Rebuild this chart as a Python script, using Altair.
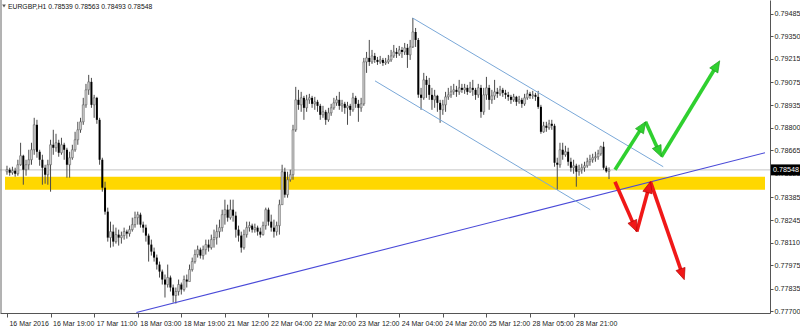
import math
import altair as alt
import pandas as pd

# ---------------- data (prices in points, 1 point = 0.00001) ----------------
first_open = 78537
close_pts = [
    78549, 78531, 78543, 78525, 78579, 78633, 78549, 78579, 78609, 78669,
    78819, 78657, 78609, 78561, 78519, 78579, 78699, 78681, 78711, 78651,
    78699, 78669, 78579, 78621, 78669, 78729, 78789, 78837, 78939, 79029,
    79077, 78939, 78981, 78849, 78609, 78441, 78297, 78141, 78177, 78117,
    78159, 78141, 78153, 78177, 78165, 78189, 78219, 78261, 78279, 78219,
    78201, 78153, 78099, 78057, 78021, 77979, 77937, 77889, 77859, 77901,
    77841, 77793, 77817, 77859, 77829, 77889, 77877, 77949, 77997, 78039,
    78069, 78033, 78069, 78099, 78081, 78129, 78141, 78177, 78201, 78279,
    78309, 78261, 78309, 78273, 78189, 78153, 78081, 78159, 78201, 78213,
    78189, 78201, 78177, 78159, 78213, 78309, 78237, 78201, 78177, 78213,
    78339, 78537, 78399, 78489, 78519, 78789, 78969, 78939, 78981, 78921,
    78969, 78981, 78945, 78957, 78933, 78879, 78897, 78849, 78891, 78921,
    78951, 78969, 78933, 78945, 78921, 78933, 78909, 78981, 78945, 78921,
    78945, 79197, 79221, 79197, 79233, 79209, 79197, 79209, 79191, 79197,
    79209, 79233, 79257, 79245, 79269, 79257, 79281, 79239, 79287, 79377,
    79329, 79000, 78981, 79089, 79059, 78999, 78969, 78993, 78951, 78909,
    78939, 78987, 78999, 79017, 79029, 79017, 79041, 79029, 79041, 79017,
    79041, 79029, 78999, 79041, 78897, 78999, 79041, 78969, 78993, 79017,
    79005, 79029, 79011, 78999, 78987, 78969, 78987, 78957, 78969, 78945,
    78981, 79005, 78993, 78999, 78987, 78927, 78777, 78813, 78801, 78825,
    78813, 78591, 78579, 78669, 78639, 78657, 78597, 78561, 78573, 78537,
    78549, 78561, 78573, 78597, 78609, 78621, 78627, 78645, 78687, 78561,
    78539, 78548,
]
high_pts = [
    78573, 78561, 78567, 78561, 78609, 78711, 78639, 78609, 78669, 78711,
    78861, 78849, 78669, 78639, 78579, 78609, 78729, 78789, 78765, 78729,
    78741, 78711, 78681, 78657, 78699, 78777, 78837, 78861, 78981, 79065,
    79119, 79101, 78999, 78987, 78861, 78621, 78477, 78321, 78237, 78219,
    78201, 78189, 78177, 78201, 78189, 78213, 78261, 78297, 78297, 78291,
    78237, 78219, 78165, 78129, 78081, 78039, 77997, 77949, 77919, 77979,
    77913, 77859, 77841, 77889, 77871, 77913, 77919, 77979, 78021, 78069,
    78093, 78081, 78093, 78129, 78129, 78159, 78189, 78219, 78249, 78309,
    78369, 78339, 78369, 78369, 78297, 78213, 78177, 78189, 78237, 78237,
    78225, 78225, 78213, 78201, 78237, 78321, 78321, 78279, 78249, 78237,
    78369, 78579, 78561, 78537, 78549, 78819, 79047, 79029, 79017, 78993,
    78999, 79005, 78993, 78987, 78969, 78945, 78933, 78909, 78921, 78945,
    78981, 78993, 79017, 78969, 78957, 78957, 78945, 79011, 78993, 78969,
    78981, 79221, 79257, 79329, 79269, 79251, 79227, 79233, 79221, 79221,
    79239, 79269, 79299, 79281, 79293, 79287, 79311, 79305, 79329, 79461,
    79401, 79341, 79041, 79131, 79113, 79101, 79041, 79029, 78999, 78969,
    78969, 79017, 79041, 79053, 79065, 79053, 79089, 79065, 79065, 79059,
    79077, 79089, 79041, 79065, 79059, 79041, 79107, 79059, 79029, 79089,
    79041, 79053, 79041, 79029, 79017, 78999, 79005, 78993, 78993, 78981,
    79005, 79029, 79017, 79023, 79011, 79023, 78939, 78837, 78837, 78849,
    78849, 78825, 78621, 78711, 78711, 78693, 78681, 78621, 78609, 78585,
    78579, 78585, 78597, 78621, 78639, 78645, 78657, 78669, 78693, 78717,
    78573, 78563,
]
low_pts = [
    78519, 78513, 78519, 78507, 78513, 78573, 78459, 78513, 78549, 78579,
    78639, 78621, 78573, 78459, 78465, 78459, 78417, 78639, 78657, 78627,
    78639, 78609, 78501, 78501, 78609, 78657, 78699, 78771, 78819, 78921,
    78999, 78921, 78861, 78825, 78579, 78417, 78279, 78117, 78081, 78087,
    78105, 78093, 78105, 78129, 78135, 78147, 78177, 78201, 78219, 78201,
    78171, 78117, 77997, 78033, 77997, 77949, 77901, 77859, 77781, 77841,
    77817, 77751, 77745, 77793, 77799, 77817, 77841, 77877, 77937, 77985,
    78021, 78015, 78009, 78039, 78057, 78069, 78081, 78099, 78141, 78177,
    78219, 78237, 78249, 78237, 78141, 78117, 78051, 78069, 78141, 78177,
    78171, 78171, 78153, 78141, 78153, 78189, 78213, 78177, 78141, 78153,
    78159, 78339, 78381, 78381, 78477, 78489, 78777, 78909, 78897, 78849,
    78897, 78945, 78921, 78909, 78897, 78849, 78861, 78819, 78837, 78873,
    78909, 78933, 78909, 78897, 78885, 78819, 78873, 78897, 78921, 78837,
    78897, 78933, 79131, 79173, 79185, 79191, 79179, 79185, 79173, 79179,
    79185, 79197, 79221, 79221, 79233, 79221, 79239, 79161, 79209, 79281,
    79287, 78981, 78909, 78969, 78981, 78969, 78909, 78921, 78897, 78831,
    78879, 78897, 78969, 78981, 78999, 78987, 78999, 79011, 79005, 78999,
    79011, 78993, 78969, 78981, 78861, 78879, 78969, 78909, 78945, 78969,
    78981, 78993, 78987, 78975, 78963, 78945, 78957, 78933, 78945, 78921,
    78933, 78969, 78975, 78975, 78963, 78915, 78765, 78771, 78777, 78789,
    78789, 78567, 78429, 78561, 78609, 78627, 78573, 78537, 78525, 78447,
    78513, 78525, 78537, 78561, 78573, 78591, 78597, 78609, 78633, 78549,
    78531, 78493,
]

x_tick_bars = list(range(0, 209, 16))
x_tick_labels = ["16 Mar 2016", "16 Mar 19:00", "17 Mar 11:00", "18 Mar 03:00",
                 "18 Mar 19:00", "21 Mar 12:00", "22 Mar 04:00", "22 Mar 20:00",
                 "23 Mar 12:00", "24 Mar 04:00", "24 Mar 20:00", "25 Mar 12:00",
                 "28 Mar 05:00", "28 Mar 21:00"]
y_tick_values = [0.79485, 0.79350, 0.79215, 0.79075, 0.78935, 0.78800, 0.78665,
                 0.78525, 0.78385, 0.78245, 0.78110, 0.77975, 0.77835, 0.77700]

title_text = "EURGBP,H1  0.78539 0.78563 0.78493 0.78548"
last_price = 0.78548

# support zone and drawn objects (bar index, price)
zone_low, zone_high = 0.78428, 0.78507
trend_x = [47.5, 278.26]
trend_p = [0.77691, 0.78651]
chan_up_x = [148.9, 240.9]
chan_up_p = [0.79461, 0.78567]
chan_lo_x = [135.1, 214.1]
chan_lo_p = [0.79083, 0.78309]
green_x = [223.2, 234.4, 240.2, 261.6]
green_p = [0.78549, 0.78837, 0.78627, 0.79203]
red_x = [223.2, 231.2, 236.2, 248.6]
red_p = [0.78477, 0.78177, 0.78477, 0.77889]

# ---------------- layout ----------------
W, H = 770, 313
XMIN, XMAX = -0.725, 278.26
YMIN, YMAX = 0.77688, 0.79569
FONT = "Liberation Sans"

xs = alt.Scale(domain=[XMIN, XMAX], nice=False, zero=False)
ys = alt.Scale(domain=[YMIN, YMAX], nice=False, zero=False)

# ---------------- candles table ----------------
opens = [first_open] + close_pts[:-1]
rows = []
for i, (o, c, h, l) in enumerate(zip(opens, close_pts, high_pts, low_pts)):
    rows.append({
        "x": i,
        "o": o / 1e5,
        "c": c / 1e5,
        "h": max(h, o, c) / 1e5,
        "l": min(l, o, c) / 1e5,
        "bull": c >= o,
    })
candles = pd.DataFrame(rows)

labels_js = "[" + ",".join("'" + s + "'" for s in x_tick_labels) + "]"

xaxis = alt.Axis(values=x_tick_bars, labelExpr=labels_js + "[round(datum.value/16)]",
                 labelAlign="left", labelOffset=2, labelFont=FONT, labelFontSize=7,
                 labelColor="#222", tickSize=4, tickColor="#555", domainColor="#555",
                 labelPadding=2, grid=False, title=None, labelFlush=False,
                 labelOverlap=False, labelBound=False)
yaxis = alt.Axis(orient="right", values=y_tick_values, format=".5f", labelFont=FONT,
                 labelFontSize=7.2, labelColor="#222", tickSize=3, tickColor="#555",
                 domainColor="#555", labelPadding=1, grid=False, title=None,
                 labelOverlap=False, labelFlush=False, labelBound=False)


def X(field):
    return alt.X(field, scale=xs, axis=xaxis, title=None)


def Y(field):
    return alt.Y(field, scale=ys, axis=yaxis, title=None)


band = alt.Chart(pd.DataFrame({"x": [XMIN], "x2": [XMAX], "y": [zone_low], "y2": [zone_high]})).mark_rect(
    color="#FFD700").encode(x=X("x:Q"), x2="x2:Q", y=Y("y:Q"), y2="y2:Q")

bidline = alt.Chart(pd.DataFrame({"y": [last_price]})).mark_rule(color="#c4c4c4", strokeWidth=1).encode(
    y=Y("y:Q"))

wicks = alt.Chart(candles).mark_rule(color="#4a4a4a", strokeWidth=1).encode(
    x=X("x:Q"), y=Y("l:Q"), y2="h:Q")

bodies_bull = alt.Chart(candles[candles["bull"]]).mark_bar(
    size=2, color="#cfcfcf", stroke="#505050", strokeWidth=0.5).encode(
    x=X("x:Q"), y=Y("o:Q"), y2="c:Q")

bodies_bear = alt.Chart(candles[~candles["bull"]]).mark_bar(
    size=2, color="#000000").encode(
    x=X("x:Q"), y=Y("o:Q"), y2="c:Q")

trend = alt.Chart(pd.DataFrame({"x": trend_x, "y": trend_p})).mark_line(
    color="#4a4ad8", strokeWidth=1.1).encode(x=X("x:Q"), y=Y("y:Q"))

chan_df = pd.DataFrame({"x": chan_up_x + chan_lo_x, "y": chan_up_p + chan_lo_p,
                        "k": ["u", "u", "l", "l"]})
chan = alt.Chart(chan_df).mark_line(color="#7aa8d8", strokeWidth=1).encode(
    x=X("x:Q"), y=Y("y:Q"), detail="k:N")

# arrows: shafts + heads
sx = W / (XMAX - XMIN)
sy = H / (YMAX - YMIN)
HEAD_BACK = 6.0


def arrow_tables(xv, pv, name):
    shafts, heads = [], []
    for k in range(len(xv) - 1):
        x0, p0, x1, p1 = xv[k], pv[k], xv[k + 1], pv[k + 1]
        dxp = (x1 - x0) * sx
        dyp = -(p1 - p0) * sy
        L = math.hypot(dxp, dyp)
        ux, uy = dxp / L, dyp / L
        hx = x1 - ux * HEAD_BACK / sx
        hp = p1 + uy * HEAD_BACK / sy
        ang = math.degrees(math.atan2(ux, -uy)) % 360
        shafts.append({"x": x0, "y": p0, "leg": f"{name}{k}", "o": 0})
        shafts.append({"x": hx, "y": hp, "leg": f"{name}{k}", "o": 1})
        heads.append({"x": hx, "y": hp, "ang": ang})
    return pd.DataFrame(shafts), pd.DataFrame(heads)


ARROW_SHAPE = "M0,-1L0.78,0.85L-0.78,0.85Z"


def arrow_layers(xv, pv, name, color, dark):
    sh, hd = arrow_tables(xv, pv, name)
    shaft = alt.Chart(sh).mark_line(color=color, strokeWidth=3.6, strokeCap="butt").encode(
        x=X("x:Q"), y=Y("y:Q"), detail="leg:N", order="o:Q")
    head = alt.Chart(hd).mark_point(shape=ARROW_SHAPE, filled=True, size=150, color=color,
                                    stroke=dark, strokeWidth=0.6, opacity=1).encode(
        x=X("x:Q"), y=Y("y:Q"), angle=alt.Angle("ang:Q", scale=None))
    return [shaft, head]


green_layers = arrow_layers(green_x, green_p, "g", "#2fd02f", "#1c9a1c")
red_layers = arrow_layers(red_x, red_p, "r", "#f01818", "#b00000")

# current price tag on the price axis
tag_df = pd.DataFrame({"y": [last_price + 0.00033], "y2": [last_price - 0.00033]})
tag_box = alt.Chart(tag_df).mark_rect(color="#000000").encode(
    x=alt.value(771), x2=alt.value(800), y=Y("y:Q"), y2="y2:Q")
tag_txt = alt.Chart(pd.DataFrame({"y": [last_price], "t": [f"{last_price:.5f}"]})).mark_text(
    align="left", baseline="middle", color="white", font=FONT, fontSize=7.2).encode(
    x=alt.value(773), y=Y("y:Q"), text="t:N")

left_border = alt.Chart(pd.DataFrame({"a": [0]})).mark_rule(color="#666666", strokeWidth=1).encode(
    x=alt.value(1), y=alt.value(0), y2=alt.value(H))

title_tri = alt.Chart(pd.DataFrame({"a": [0]})).mark_point(
    shape="triangle-down", filled=True, size=14, color="#111").encode(
    x=alt.value(4), y=alt.value(6))
title_txt = alt.Chart(pd.DataFrame({"t": [title_text]})).mark_text(
    align="left", baseline="middle", font=FONT, fontSize=6.8, color="#111").encode(
    x=alt.value(8), y=alt.value(6.5), text="t:N")

chart = alt.layer(
    band, bidline, wicks, bodies_bull, bodies_bear, trend, chan,
    *green_layers, *red_layers, tag_box, tag_txt, left_border, title_tri, title_txt,
).properties(
    width=W, height=H,
    padding={"left": 0, "top": 0, "right": 30, "bottom": 15},
    autosize=alt.AutoSizeParams(type="none"),
    background="white",
).configure_view(stroke=None)

chart.save("out.html", embed_options={"renderer": "svg", "actions": False})
